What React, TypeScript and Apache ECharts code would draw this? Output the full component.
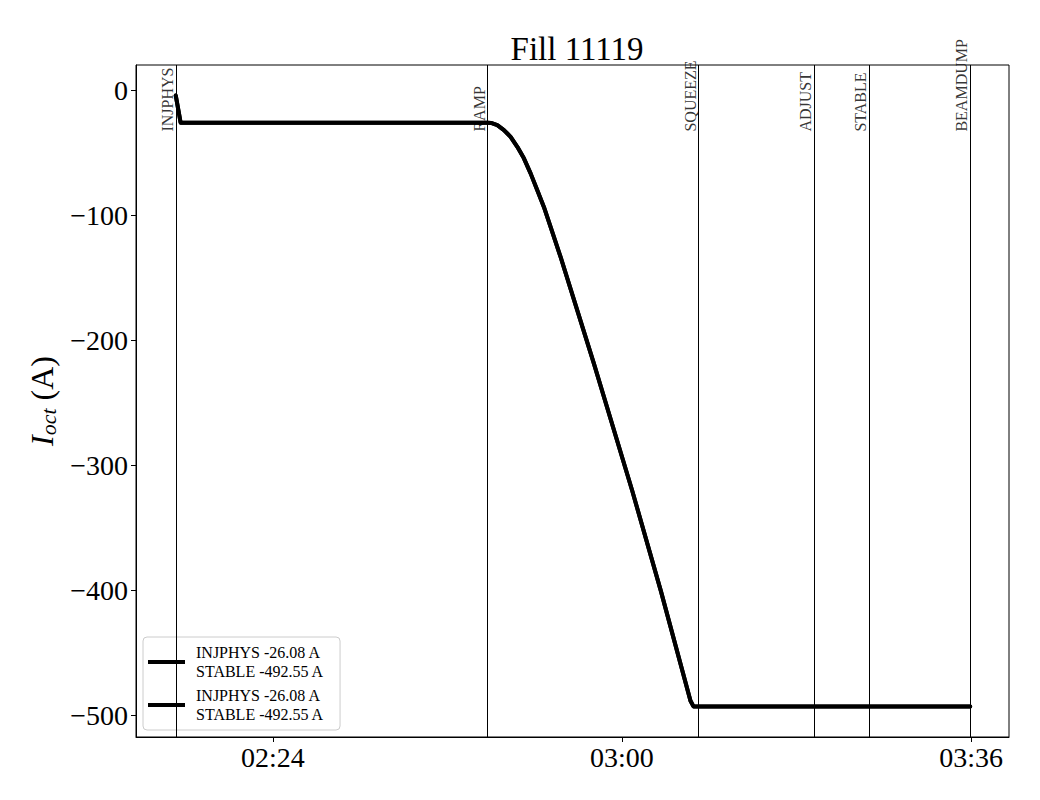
import React, { useEffect, useRef } from "react";
import * as echarts from "echarts";

// time in minutes since midnight
const timeMin = [134.0, 134.5, 166.15, 166.5, 167.15, 167.83, 168.52, 169.21, 169.89, 170.58, 171.27, 171.95, 172.64, 173.67, 177.1, 181.05, 184.0, 187.06, 187.37, 215.9];
const current = [-4.4, -26.08, -26.08, -26.3, -28.0, -32.0, -37.4, -45.4, -54.6, -66.6, -80.0, -93.4, -109.4, -133.4, -218.4, -320, -400, -488, -492.55, -492.55];

const eventNames = ["INJPHYS", "RAMP", "SQUEEZE", "ADJUST", "STABLE", "BEAMDUMP"];
const eventTimes = [134.0, 166.15, 187.9, 199.8, 205.5, 215.9];

const xTicks = [144, 180, 216];
const yTicks = [0, -100, -200, -300, -400, -500];

const legendNames = ["INJPHYS -26.08 A\nSTABLE -492.55 A", "INJPHYS -26.08 A\nSTABLE -492.55 A "];

const LABEL_Y = -33.6;
const FONT = "'Liberation Serif', 'Times New Roman', serif";

function fmtTime(v: number) {
  const h = Math.floor(v / 60);
  const m = Math.round(v - h * 60);
  return String(h).padStart(2, "0") + ":" + String(m).padStart(2, "0");
}

export default function App() {
  const ref = useRef<HTMLDivElement>(null);
  useEffect(() => {
    const chart = echarts.init(ref.current!, null, { renderer: "svg" });
    const lineData = timeMin.map((t, i) => [t, current[i]]);
    const lineSeries = (name: string) => ({
      name,
      type: "line",
      data: lineData,
      showSymbol: false,
      symbol: "none",
      smooth: false,
      lineStyle: { color: "#000", width: 4, cap: "round", join: "round" },
      itemStyle: { color: "#000" },
      z: 3,
    });
    chart.setOption({
      animation: false,
      title: {
        text: "Fill 11119",
        left: 572,
        textAlign: "center",
        top: 27,
        textStyle: { fontFamily: FONT, fontSize: 33, fontWeight: "normal", color: "#000" },
      },
      grid: {
        left: 136,
        right: 31,
        top: 65,
        bottom: 63,
        show: true,
        borderColor: "#000",
        borderWidth: 1,
        backgroundColor: "transparent",
      },
      legend: {
        left: 143,
        top: 637,
        orient: "vertical",
        data: legendNames,
        icon: "rect",
        itemWidth: 37,
        itemHeight: 4,
        itemGap: 5,
        padding: [6, 12, 6, 5],
        borderColor: "#ccc",
        borderWidth: 1,
        borderRadius: 4,
        backgroundColor: "rgba(255,255,255,0.8)",
        textStyle: { fontFamily: FONT, fontSize: 16, lineHeight: 19, color: "#000", padding: [0, 0, 0, 6] },
      },
      xAxis: {
        type: "value",
        min: 129.9,
        max: 219.9,
        splitLine: { show: false },
        axisLine: { show: true, onZero: false, lineStyle: { color: "#000", width: 1 } },
        axisTick: { show: true, customValues: xTicks, length: 5, lineStyle: { color: "#000" } },
        axisLabel: {
          customValues: xTicks,
          formatter: (v: number) => fmtTime(v),
          fontFamily: FONT,
          fontSize: 28,
          color: "#000",
          margin: 6,
        },
      },
      yAxis: {
        type: "value",
        min: -517,
        max: 20,
        splitLine: { show: false },
        axisLine: { show: true, onZero: false, lineStyle: { color: "#000", width: 1 } },
        axisTick: { show: true, customValues: yTicks, length: 5, lineStyle: { color: "#000" } },
        axisLabel: {
          customValues: yTicks,
          formatter: (v: number) => String(v).replace("-", "\u2212"),
          fontFamily: FONT,
          fontSize: 28,
          color: "#000",
          margin: 8,
        },
        name: "{it|I}{sub|oct}{n| (A)}",
        nameLocation: "middle",
        nameGap: 76,
        nameTextStyle: {
          fontFamily: FONT,
          fontSize: 32,
          color: "#000",
          rich: {
            it: { fontFamily: FONT, fontSize: 32, fontStyle: "italic", color: "#000" },
            sub: { fontFamily: FONT, fontSize: 22, fontStyle: "italic", color: "#000", verticalAlign: "bottom", padding: [12, 0, 0, 0] },
            n: { fontFamily: FONT, fontSize: 32, color: "#000" },
          },
        },
      },
      series: [
        lineSeries(legendNames[0]),
        lineSeries(legendNames[1]),
        {
          name: "events",
          type: "scatter",
          data: eventTimes.map((t, i) => ({ value: [t, LABEL_Y], name: eventNames[i] })),
          symbolSize: 1,
          itemStyle: { color: "transparent" },
          silent: true,
          z: 2,
          label: {
            show: true,
            formatter: (p: any) => p.name,
            position: [0, 0],
            rotate: 90,
            align: "left",
            verticalAlign: "bottom",
            fontFamily: FONT,
            fontSize: 16,
            color: "#000",
          },
          markLine: {
            silent: true,
            symbol: "none",
            animation: false,
            label: { show: false },
            lineStyle: { color: "#000", width: 1, type: "solid" },
            data: eventTimes.map((t) => ({ xAxis: t })),
          },
        },
      ],
    });
    return () => chart.dispose();
  }, []);
  return <div ref={ref} style={{ position: "absolute", left: 0, top: 0, width: 1040, height: 800 }} />;
}
